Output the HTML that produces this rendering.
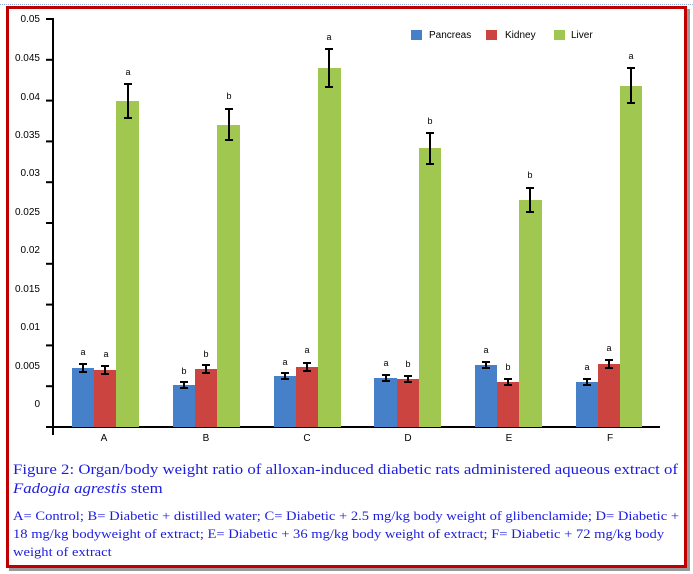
<!DOCTYPE html>
<html><head><meta charset="utf-8"><style>
body{margin:0;background:#fff;width:693px;height:574px;overflow:hidden;position:relative;font-family:"Liberation Sans",sans-serif}
.frame{position:absolute;left:6px;top:6px;width:675px;height:556px;border:3px solid #c00000;box-shadow:3px 3px 0 #999}
.cap{position:absolute;left:13px;color:#1c1ce0;font-family:"Liberation Serif",serif;white-space:nowrap;transform-origin:0 0;transform:scaleX(1.12)}
</style></head><body>
<div style="position:absolute;left:0;top:4px;width:693px;border-top:1px dotted #8aaee0"></div>
<div class="frame"></div>
<svg width="693" height="574" style="position:absolute;left:0;top:0" font-family="Liberation Sans, sans-serif" font-size="10">
<g fill="#000" text-anchor="end">
<text x="40" y="22">0.05</text><text x="40" y="61">0.045</text><text x="40" y="100">0.04</text>
<text x="40" y="138">0.035</text><text x="40" y="176">0.03</text><text x="40" y="215">0.025</text>
<text x="40" y="253">0.02</text><text x="40" y="292">0.015</text><text x="40" y="330">0.01</text>
<text x="40" y="369">0.005</text><text x="40" y="407">0</text>
</g>
<g stroke="#000" stroke-width="2">
<line x1="53" y1="18" x2="53" y2="435"/>
<line x1="46" y1="427" x2="660" y2="427"/>
<line x1="46" y1="19" x2="53" y2="19"/><line x1="46" y1="59.8" x2="53" y2="59.8"/><line x1="46" y1="100.6" x2="53" y2="100.6"/>
<line x1="46" y1="141.4" x2="53" y2="141.4"/><line x1="46" y1="182.2" x2="53" y2="182.2"/><line x1="46" y1="223" x2="53" y2="223"/>
<line x1="46" y1="263.8" x2="53" y2="263.8"/><line x1="46" y1="304.6" x2="53" y2="304.6"/><line x1="46" y1="345.4" x2="53" y2="345.4"/>
<line x1="46" y1="386.2" x2="53" y2="386.2"/>
</g>
<g>
<rect x="72" y="368" width="22" height="59" fill="#4580c8"/><rect x="94" y="370" width="22" height="57" fill="#cc4440"/><rect x="116" y="101" width="23" height="326" fill="#a0c850"/>
<rect x="173" y="385" width="22" height="42" fill="#4580c8"/><rect x="195" y="369" width="22" height="58" fill="#cc4440"/><rect x="217" y="125" width="23" height="302" fill="#a0c850"/>
<rect x="274" y="376" width="22" height="51" fill="#4580c8"/><rect x="296" y="367" width="22" height="60" fill="#cc4440"/><rect x="318" y="68" width="23" height="359" fill="#a0c850"/>
<rect x="374" y="378" width="23" height="49" fill="#4580c8"/><rect x="397" y="379" width="22" height="48" fill="#cc4440"/><rect x="419" y="148" width="22" height="279" fill="#a0c850"/>
<rect x="475" y="365" width="22" height="62" fill="#4580c8"/><rect x="497" y="382" width="22" height="45" fill="#cc4440"/><rect x="519" y="200" width="23" height="227" fill="#a0c850"/>
<rect x="576" y="382" width="22" height="45" fill="#4580c8"/><rect x="598" y="364" width="22" height="63" fill="#cc4440"/><rect x="620" y="86" width="22" height="341" fill="#a0c850"/>
</g>
<g stroke="#000" stroke-width="2" fill="none">
<path d="M83 364v8M79 364h8M79 372h8"/><path d="M105 366v8M101 366h8M101 374h8"/><path d="M128 84v34M124 84h8M124 118h8"/>
<path d="M184 382v6M180 382h8M180 388h8"/><path d="M206 365v8M202 365h8M202 373h8"/><path d="M229 109v31M225 109h8M225 140h8"/>
<path d="M285 373v6M281 373h8M281 379h8"/><path d="M307 363v8M303 363h8M303 371h8"/><path d="M329 49v38M325 49h8M325 87h8"/>
<path d="M386 375v6M382 375h8M382 381h8"/><path d="M408 376v6M404 376h8M404 382h8"/><path d="M430 133v31M426 133h8M426 164h8"/>
<path d="M486 362v6M482 362h8M482 368h8"/><path d="M508 379v6M504 379h8M504 385h8"/><path d="M530 188v24M526 188h8M526 212h8"/>
<path d="M587 379v6M583 379h8M583 385h8"/><path d="M609 360v8M605 360h8M605 368h8"/><path d="M631 68v35M627 68h8M627 103h8"/>
</g>
<g fill="#000" text-anchor="middle" font-size="9">
<text x="83" y="355">a</text><text x="106" y="357">a</text><text x="128" y="75">a</text>
<text x="184" y="374">b</text><text x="206" y="357">b</text><text x="229" y="99">b</text>
<text x="285" y="365">a</text><text x="307" y="353">a</text><text x="329" y="40">a</text>
<text x="386" y="366">a</text><text x="408" y="367">b</text><text x="430" y="124">b</text>
<text x="486" y="353">a</text><text x="508" y="370">b</text><text x="530" y="178">b</text>
<text x="587" y="370">a</text><text x="609" y="351">a</text><text x="631" y="59">a</text>
</g>
<g fill="#000" text-anchor="middle" font-size="10">
<text x="104" y="441">A</text><text x="206" y="441">B</text><text x="307" y="441">C</text>
<text x="408" y="441">D</text><text x="509" y="441">E</text><text x="610" y="441">F</text>
</g>
<rect x="411" y="30" width="11" height="10" fill="#4580c8"/><text x="429" y="38" font-size="10">Pancreas</text>
<rect x="486" y="30" width="11" height="10" fill="#cc4440"/><text x="505" y="38" font-size="10">Kidney</text>
<rect x="554" y="30" width="11" height="10" fill="#a0c850"/><text x="571" y="38" font-size="10">Liver</text>
</svg>
<div class="cap" style="top:462px;font-size:15px">Figure 2: Organ/body weight ratio of alloxan-induced diabetic rats administered aqueous extract of</div>
<div class="cap" style="top:481px;font-size:15px"><i>Fadogia agrestis</i> stem</div>
<div class="cap" style="top:507px;font-size:13px;line-height:18px">A= Control; B= Diabetic + distilled water; C= Diabetic + 2.5 mg/kg body weight of glibenclamide; D= Diabetic +<br>18 mg/kg bodyweight of extract; E= Diabetic + 36 mg/kg body weight of extract; F= Diabetic + 72 mg/kg body<br>weight of extract</div>
</body></html>
